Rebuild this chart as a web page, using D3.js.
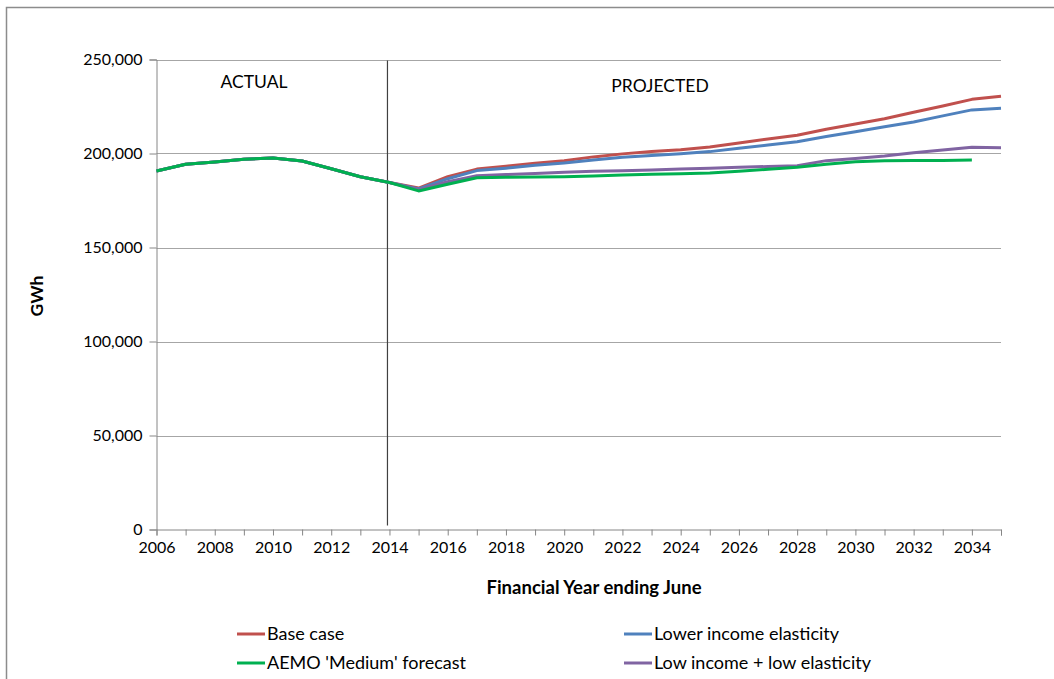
<!DOCTYPE html>
<html>
<head>
<meta charset="utf-8">
<script src="https://cdn.jsdelivr.net/npm/d3@7"></script>
<style>
  html, body { margin: 0; padding: 0; background: #fff; }
  svg { display: block; font-family: Lato, "Open Sans", sans-serif; }
</style>
</head>
<body>
<svg id="chart" width="1054" height="679"></svg>
<script>
// Electricity consumption, GWh, by financial year ending June
const years = d3.range(2006, 2036);
const actual = [190.7, 194.3, 195.5, 197.0, 197.6, 196.0, 191.9, 187.6, 184.6];
const baseCase = actual.concat([181.6, 187.7, 191.7, 193.2, 194.8, 196.2, 198.2, 199.8, 201.0, 202.0, 203.5, 205.6, 207.7, 209.7, 212.9, 215.7, 218.5, 221.9, 225.3, 228.8, 230.4]);
const lowerIncome = actual.concat([181.2, 186.6, 190.9, 192.2, 193.7, 195.0, 196.6, 198.0, 199.0, 199.9, 201.0, 202.8, 204.5, 206.3, 209.0, 211.6, 214.2, 216.8, 220.0, 223.2, 224.1]);
const lowIncomeLowElast = actual.concat([180.8, 185.0, 188.2, 188.8, 189.4, 190.0, 190.5, 190.8, 191.2, 191.7, 192.2, 192.7, 193.1, 193.5, 196.2, 197.4, 198.7, 200.4, 201.9, 203.3, 203.1]);
const aemoMedium = actual.concat([180.1, 183.6, 187.1, 187.4, 187.5, 187.6, 188.0, 188.5, 188.9, 189.2, 189.6, 190.5, 191.6, 192.7, 194.3, 195.6, 196.2, 196.3, 196.3, 196.5]);

const seriesNames = ["Base case", "Lower income elasticity", "AEMO 'Medium' forecast", "Low income + low elasticity"];
const seriesColors = ["#C0504D", "#4F81BD", "#00B050", "#8064A2"];
const seriesValues = [baseCase, lowerIncome, aemoMedium, lowIncomeLowElast];

const yTicks = [0, 50000, 100000, 150000, 200000, 250000];
const xTickYears = d3.range(2006, 2035, 2);
const splitYear = 2014;

const svg = d3.select("#chart");

// outer chart frame
svg.append("rect")
  .attr("x", 6.5).attr("y", 7.5)
  .attr("width", 1100).attr("height", 700)
  .attr("fill", "none").attr("stroke", "#8c8c8c").attr("stroke-width", 1.5);

const plot = { left: 156.5, right: 1001, top: 59.5, bottom: 529.5 };

const x = d3.scaleLinear().domain([2006, 2035]).range([plot.left, plot.right]);
const y = d3.scaleLinear().domain([0, 250000]).range([plot.bottom, plot.top]);

// horizontal gridlines
svg.append("g")
  .selectAll("line")
  .data(yTicks.filter(d => d > 0))
  .join("line")
  .attr("x1", plot.left).attr("x2", plot.right)
  .attr("y1", d => Math.round(y(d)) + 0.5).attr("y2", d => Math.round(y(d)) + 0.5)
  .attr("stroke", "#a6a6a6").attr("stroke-width", 1.2);

// y axis
const yAxis = svg.append("g")
  .attr("transform", `translate(${plot.left},0)`)
  .call(d3.axisLeft(y).tickValues(yTicks).tickSize(7).tickPadding(7)
    .tickFormat(d3.format(",")));
yAxis.select(".domain").attr("stroke", "#868686");
yAxis.selectAll(".tick line").attr("stroke", "#868686");
yAxis.selectAll("text").attr("font-size", 16).attr("fill", "#000")
  .attr("font-family", "Lato, sans-serif");

// x axis: a tick every year, labels every second year
const xAxis = svg.append("g")
  .attr("transform", `translate(0,${plot.bottom})`)
  .call(d3.axisBottom(x).tickValues(years).tickSize(6).tickPadding(6)
    .tickFormat(d => xTickYears.includes(d) ? String(d) : ""));
xAxis.select(".domain").attr("stroke", "#868686");
xAxis.selectAll(".tick line").attr("stroke", "#868686");
xAxis.selectAll("text").attr("font-size", 16).attr("fill", "#000")
  .attr("font-family", "Lato, sans-serif");

// divider between actual and projected
svg.append("line")
  .attr("x1", x(splitYear) - 2).attr("x2", x(splitYear) - 2)
  .attr("y1", plot.top + 1).attr("y2", plot.bottom - 4)
  .attr("stroke", "#404040").attr("stroke-width", 1.2);

svg.append("text").attr("x", 254).attr("y", 88)
  .attr("text-anchor", "middle").attr("font-size", 17.5).text("ACTUAL");
svg.append("text").attr("x", 660).attr("y", 92)
  .attr("text-anchor", "middle").attr("font-size", 17.5).text("PROJECTED");

// series lines
const line = d3.line()
  .x((d, i) => x(years[i]))
  .y(d => y(d * 1000));

const drawOrder = [0, 1, 3, 2];
svg.append("g")
  .selectAll("path")
  .data(drawOrder)
  .join("path")
  .attr("d", k => line(seriesValues[k]))
  .attr("fill", "none")
  .attr("stroke", k => seriesColors[k])
  .attr("stroke-width", 3)
  .attr("stroke-linejoin", "round");

// axis titles
svg.append("text")
  .attr("transform", "translate(43,296) rotate(-90)")
  .attr("text-anchor", "middle").attr("font-size", 17.5).attr("font-weight", "bold")
  .text("GWh");
svg.append("text")
  .attr("x", 594).attr("y", 594)
  .attr("text-anchor", "middle").attr("font-size", 18.5).attr("font-weight", "bold")
  .text("Financial Year ending June");

// legend (two rows, two columns)
const legendPos = [[237, 634], [624, 634], [237, 663], [624, 663]];
const legend = svg.append("g")
  .selectAll("g")
  .data(seriesNames)
  .join("g")
  .attr("transform", (d, i) => `translate(${legendPos[i][0]},${legendPos[i][1]})`);
legend.append("line")
  .attr("x1", 0).attr("x2", 28).attr("y1", 0).attr("y2", 0)
  .attr("stroke", (d, i) => seriesColors[i]).attr("stroke-width", 3);
legend.append("text")
  .attr("x", 30).attr("y", 6).attr("font-size", 18)
  .text(d => d);
</script>
</body>
</html>
